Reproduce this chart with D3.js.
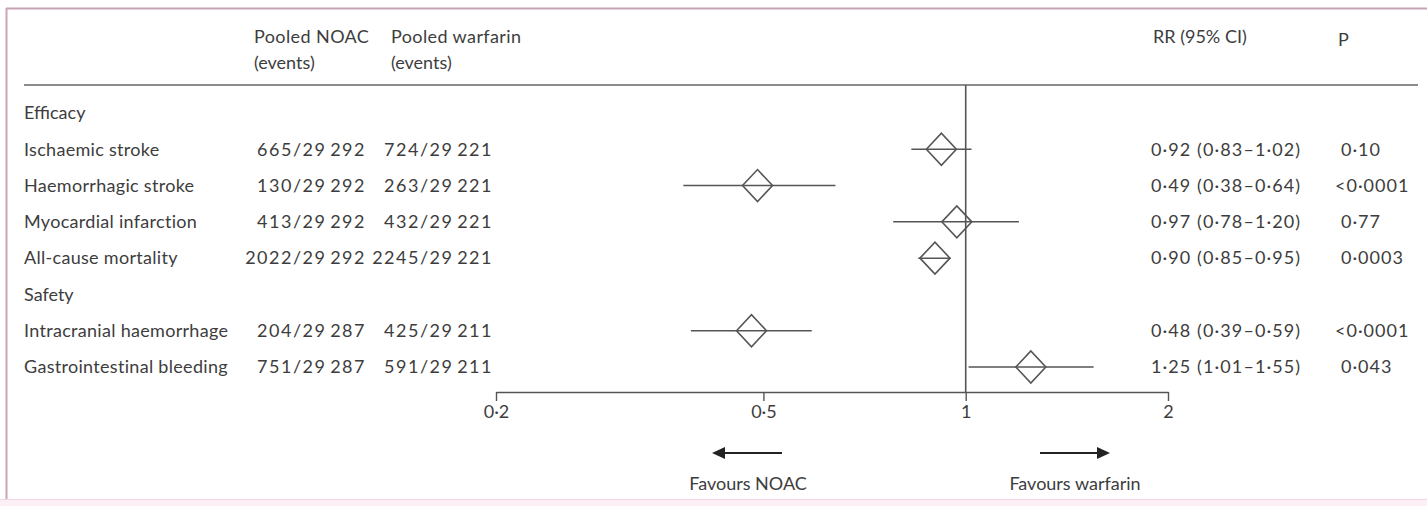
<!DOCTYPE html>
<html>
<head>
<meta charset="utf-8">
<script src="https://cdn.jsdelivr.net/npm/d3@7"></script>
<style>
  html, body { margin: 0; padding: 0; background: #fff; }
  svg { display: block; }
  text { font-family: Lato, "Liberation Sans", sans-serif; fill: #3d3d3d; }
</style>
</head>
<body>
<div id="chart"></div>
<script>
// rows in display order (section headers have no values)
const rowIds = ["efficacy", "isch", "haem", "mi", "acm", "safety", "ich", "gib"];
const sectionLabels = { efficacy: "Efficacy", safety: "Safety" };
const outcomeIds = ["isch", "haem", "mi", "acm", "ich", "gib"];
const outcomeLabels = [
  "Ischaemic stroke",
  "Haemorrhagic stroke",
  "Myocardial infarction",
  "All-cause mortality",
  "Intracranial haemorrhage",
  "Gastrointestinal bleeding",
];
const noacEvents = ["665/29\u2009292", "130/29\u2009292", "413/29\u2009292", "2022/29\u2009292", "204/29\u2009287", "751/29\u2009287"];
const warfarinEvents = ["724/29\u2009221", "263/29\u2009221", "432/29\u2009221", "2245/29\u2009221", "425/29\u2009211", "591/29\u2009211"];
const rr = [0.92, 0.49, 0.97, 0.90, 0.48, 1.25];
const ciLow = [0.83, 0.38, 0.78, 0.85, 0.39, 1.01];
const ciHigh = [1.02, 0.64, 1.20, 0.95, 0.59, 1.55];
const pValues = ["0\u00b710", "<0\u00b70001", "0\u00b777", "0\u00b70003", "<0\u00b70001", "0\u00b7043"];
const axisTicks = [0.2, 0.5, 1, 2];
const axisTickLabels = ["0\u00b72", "0\u00b75", "1", "2"];

const width = 1427;
const height = 506;
const fontSize = 18;
const ink = "#555";

const col = { label: 24, noacRight: 366, noacHead: 254, warfRight: 493, warfHead: 391, rr: 1151, p: 1338 };

const svg = d3.select("#chart")
  .append("svg")
  .attr("width", width)
  .attr("height", height);

// frame
svg.append("rect").attr("x", 0).attr("y", 499).attr("width", width).attr("height", 7).attr("fill", "#fcf0f6");
svg.append("line").attr("x1", 0).attr("x2", width).attr("y1", 499.5).attr("y2", 499.5).attr("stroke", "#f2d6e4");
svg.append("line").attr("x1", 6).attr("x2", width).attr("y1", 8.5).attr("y2", 8.5).attr("stroke", "#c9a3b6").attr("stroke-width", 2);
svg.append("line").attr("x1", 6.5).attr("x2", 6.5).attr("y1", 8).attr("y2", 499).attr("stroke", "#c9a3b6").attr("stroke-width", 2);

const y = d3.scalePoint().domain(rowIds).range([113, 367]);
const x = d3.scaleLog().domain([0.2, 2]).range([496, 1168]);
const axisY = 392;

const fmt = (v) => d3.format(".2f")(v).replace(".", "\u00b7");

// header
const head = svg.append("g").style("font-size", fontSize + "px");
[[col.noacHead, "Pooled NOAC", "(events)"], [col.warfHead, "Pooled warfarin", "(events)"]].forEach(([hx, a, b]) => {
  head.append("text").attr("x", hx).attr("y", 37).attr("dy", "0.35em").style("letter-spacing", "0.4px").text(a);
  head.append("text").attr("x", hx).attr("y", 63).attr("dy", "0.35em").text(b);
});
head.append("text").attr("x", col.rr + 2).attr("y", 37).attr("dy", "0.35em").text("RR (95% CI)");
head.append("text").attr("x", col.p).attr("y", 40).attr("dy", "0.35em").text("P");

svg.append("line")
  .attr("x1", 24).attr("x2", 1418)
  .attr("y1", 85).attr("y2", 85)
  .attr("stroke", "#666").attr("stroke-width", 1.6);

// section labels
svg.selectAll(".section")
  .data(Object.keys(sectionLabels))
  .enter()
  .append("text")
  .attr("class", "section")
  .attr("x", col.label)
  .attr("y", (d) => y(d))
  .attr("dy", "0.35em")
  .style("font-size", fontSize + "px")
  .text((d) => sectionLabels[d]);

// table rows
const rows = svg.selectAll(".row")
  .data(outcomeIds.map((id, i) => ({ id, i })))
  .enter()
  .append("g")
  .attr("class", "row")
  .attr("transform", (d) => `translate(0, ${y(d.id)})`)
  .style("font-size", fontSize + "px");

rows.append("text").attr("x", col.label).attr("dy", "0.35em").style("letter-spacing", "0.3px").text((d) => outcomeLabels[d.i]);
rows.append("text").attr("x", col.noacRight).attr("dy", "0.35em").attr("text-anchor", "end")
  .style("letter-spacing", "1.5px").text((d) => noacEvents[d.i]);
rows.append("text").attr("x", col.warfRight).attr("dy", "0.35em").attr("text-anchor", "end")
  .style("letter-spacing", "1.5px").text((d) => warfarinEvents[d.i]);
rows.append("text").attr("x", col.rr).attr("dy", "0.35em").style("letter-spacing", "1.1px")
  .text((d) => `${fmt(rr[d.i])} (${fmt(ciLow[d.i])}\u2013${fmt(ciHigh[d.i])})`);
rows.append("text")
  .attr("x", (d) => pValues[d.i].startsWith("<") ? col.p - 3 : col.p + 3)
  .attr("dy", "0.35em")
  .style("letter-spacing", "1px")
  .text((d) => pValues[d.i]);

// reference line at RR = 1
svg.append("line")
  .attr("x1", x(1)).attr("x2", x(1))
  .attr("y1", 85).attr("y2", axisY)
  .attr("stroke", ink).attr("stroke-width", 1.6);

// CI lines and diamonds
rows.append("line")
  .attr("x1", (d) => x(ciLow[d.i]))
  .attr("x2", (d) => x(ciHigh[d.i]))
  .attr("stroke", ink)
  .attr("stroke-width", 1.5);

const dw = 15, dh = 16;
rows.append("path")
  .attr("d", (d) => {
    const cx = x(rr[d.i]);
    return `M${cx - dw},0L${cx},${-dh}L${cx + dw},0L${cx},${dh}Z`;
  })
  .attr("fill", "none")
  .attr("stroke", ink)
  .attr("stroke-width", 1.6);

// x axis
const axisG = svg.append("g")
  .attr("transform", `translate(0, ${axisY})`)
  .call(
    d3.axisBottom(x)
      .tickValues(axisTicks)
      .tickFormat((d, i) => axisTickLabels[i])
      .tickSize(9)
      .tickSizeOuter(0)
      .tickPadding(4),
  );
axisG.select(".domain").attr("stroke", ink).attr("stroke-width", 1.6);
axisG.selectAll(".tick line").attr("stroke", ink).attr("stroke-width", 1.4);
axisG.selectAll(".tick text")
  .style("font-size", fontSize + "px")
  .style("font-family", "Lato, 'Liberation Sans', sans-serif")
  .attr("fill", "#3d3d3d");

// direction arrows
const arrowY = 453;
const arrows = [
  { x1: 782, x2: 712, label: "Favours NOAC", lx: 748 },
  { x1: 1040, x2: 1110, label: "Favours warfarin", lx: 1075 },
];
arrows.forEach((a) => {
  const dir = Math.sign(a.x2 - a.x1);
  svg.append("line")
    .attr("x1", a.x1).attr("x2", a.x2 - dir * 8)
    .attr("y1", arrowY).attr("y2", arrowY)
    .attr("stroke", "#222").attr("stroke-width", 2);
  svg.append("path")
    .attr("d", `M${a.x2},${arrowY}L${a.x2 - dir * 13},${arrowY - 6}L${a.x2 - dir * 13},${arrowY + 6}Z`)
    .attr("fill", "#222");
  svg.append("text")
    .attr("x", a.lx).attr("y", 484).attr("dy", "0.35em")
    .attr("text-anchor", "middle")
    .style("font-size", fontSize + "px")
    .text(a.label);
});
</script>
</body>
</html>
